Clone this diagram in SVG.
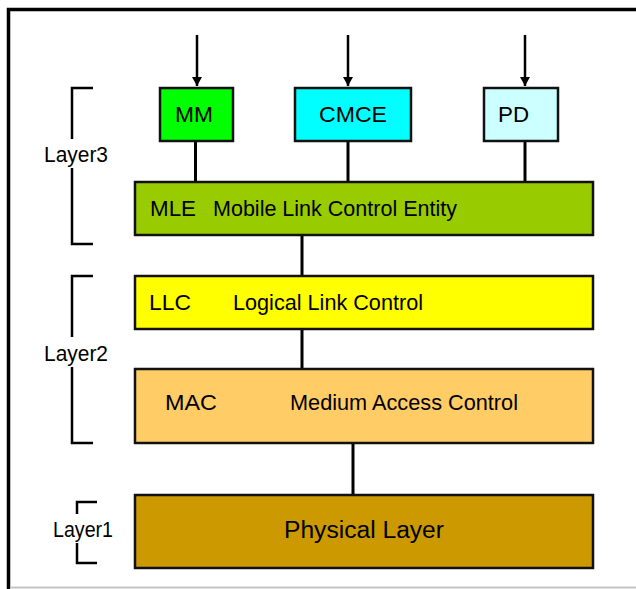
<svg xmlns="http://www.w3.org/2000/svg" width="636" height="589" viewBox="0 0 636 589">
<style>
.box{stroke:#111;stroke-width:2.5}
.t{font-family:"Liberation Sans",Arial,sans-serif;font-size:22px;fill:#000}
.c{stroke:#000;stroke-width:3;fill:none}
.a{stroke:#000;stroke-width:2.5;fill:none}
.br{stroke:#000;stroke-width:2.5;fill:none}
</style>
<defs>
<marker id="ah" markerWidth="10" markerHeight="10" refX="9" refY="5" orient="auto" markerUnits="userSpaceOnUse" viewBox="0 0 10 10">
<path d="M0,0 L9,5 L0,10 Z" fill="#000"/>
</marker>
</defs>
<rect width="636" height="589" fill="#fff"/>
<g id="frame">
<path d="M8.5,589 V9.5 H636" stroke="#000" stroke-width="3.5" fill="none"/>
<path d="M10,587.5 H636" stroke="#c4c4c4" stroke-width="2" fill="none"/>
</g>
<g id="connectors">
<line class="a" x1="197" y1="35" x2="197" y2="86" marker-end="url(#ah)"/>
<line class="a" x1="348" y1="35" x2="348" y2="86" marker-end="url(#ah)"/>
<line class="a" x1="525" y1="35" x2="525" y2="86" marker-end="url(#ah)"/>
<line class="c" x1="195.5" y1="142" x2="195.5" y2="181"/>
<line class="c" x1="348" y1="142" x2="348" y2="181"/>
<line class="c" x1="525" y1="142" x2="525" y2="181"/>
<line class="c" x1="302" y1="235" x2="302" y2="276"/>
<line class="c" x1="302" y1="329" x2="302" y2="369"/>
<line class="c" x1="353" y1="443" x2="353" y2="494"/>
</g>
<g id="MM">
<rect class="box" x="160" y="88" width="73" height="53" fill="#00ff00"/>
<text class="t" x="175" y="122" textLength="38" lengthAdjust="spacingAndGlyphs">MM</text>
</g>
<g id="CMCE">
<rect class="box" x="295" y="88" width="116" height="53" fill="#00ffff"/>
<text class="t" x="319" y="122" textLength="68" lengthAdjust="spacingAndGlyphs">CMCE</text>
</g>
<g id="PD">
<rect class="box" x="484" y="88" width="74" height="53" fill="#ccffff"/>
<text class="t" x="498" y="122" textLength="31" lengthAdjust="spacingAndGlyphs">PD</text>
</g>
<g id="MLE">
<rect class="box" x="135" y="182" width="458" height="53" fill="#99cc00"/>
<text class="t" x="150" y="216" textLength="46" lengthAdjust="spacingAndGlyphs">MLE</text>
<text class="t" x="213" y="216" textLength="244" lengthAdjust="spacingAndGlyphs">Mobile Link Control Entity</text>
</g>
<g id="LLC">
<rect class="box" x="135" y="276" width="458" height="53" fill="#ffff00"/>
<text class="t" x="149" y="310" textLength="42" lengthAdjust="spacingAndGlyphs">LLC</text>
<text class="t" x="233" y="310" textLength="190" lengthAdjust="spacingAndGlyphs">Logical Link Control</text>
</g>
<g id="MAC">
<rect class="box" x="135" y="369" width="458" height="74" fill="#ffcc66"/>
<text class="t" x="165" y="410" textLength="52" lengthAdjust="spacingAndGlyphs">MAC</text>
<text class="t" x="290" y="410" textLength="228" lengthAdjust="spacingAndGlyphs">Medium Access Control</text>
</g>
<g id="Physical">
<rect class="box" x="135" y="495" width="458" height="73" fill="#cc9900"/>
<text class="t" x="284" y="538" textLength="160" lengthAdjust="spacingAndGlyphs" style="font-size:23px">Physical Layer</text>
</g>
<g id="Layer3">
<path class="br" d="M93,88 H72 V139 M72,168 V244 H93"/>
<text class="t" x="44" y="162" textLength="64" lengthAdjust="spacingAndGlyphs">Layer3</text>
</g>
<g id="Layer2">
<path class="br" d="M93,276 H72 V337 M72,367 V443 H93"/>
<text class="t" x="44" y="361" textLength="64" lengthAdjust="spacingAndGlyphs">Layer2</text>
</g>
<g id="Layer1">
<path class="br" d="M97,502 H77 V514 M77,543 V563 H97"/>
<text class="t" x="53" y="537" textLength="60" lengthAdjust="spacingAndGlyphs">Layer1</text>
</g>
</svg>
